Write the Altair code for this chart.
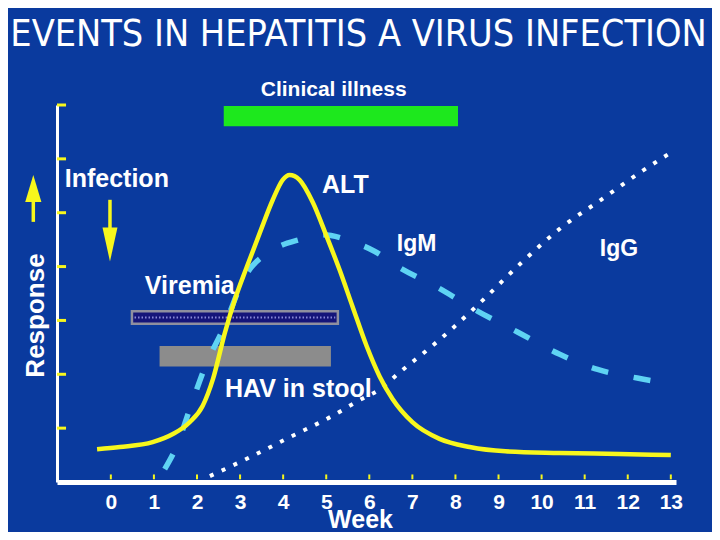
import altair as alt
import pandas as pd

# ---------------- data ----------------
weeks = list(range(14))

alt_week = [-0.32, 0.21, 0.97, 1.44, 1.83, 2.13, 2.37, 2.65, 2.88, 3.16, 3.46, 3.76, 3.99,
            4.15, 4.38, 4.69, 5.01, 5.31, 5.61, 5.94, 6.24, 6.54, 7.0, 7.63, 8.33, 9.16,
            10.41, 11.8, 13.0]
alt_resp = [0.61, 0.65, 0.74, 0.89, 1.11, 1.41, 1.91, 2.78, 3.39, 4.0, 4.63, 5.24, 5.61,
            5.70, 5.61, 5.19, 4.56, 3.94, 3.26, 2.52, 1.96, 1.54, 1.11, 0.80, 0.65, 0.57,
            0.54, 0.52, 0.50]

igm_week = [1.25, 1.53, 1.83, 2.23, 2.6, 3.11, 3.76, 4.38, 4.92, 5.61, 6.13, 6.66, 7.59,
            8.52, 9.45, 10.42, 11.3, 12.22, 13.12]
igm_resp = [0.24, 0.67, 1.35, 2.22, 2.83, 3.81, 4.31, 4.5, 4.59, 4.46, 4.28, 4.0, 3.61,
            3.17, 2.78, 2.37, 2.09, 1.93, 1.81]

igg_week = [2.3, 3.23, 4.15, 5.08, 5.82, 6.24, 6.71, 7.45, 7.9, 8.6, 9.53, 10.45, 11.38,
            12.31, 13.03]
igg_resp = [0.11, 0.46, 0.83, 1.2, 1.54, 1.72, 2.04, 2.52, 2.83, 3.35, 4.07, 4.72, 5.24,
            5.76, 6.13]

bar_names = ["Clinical illness", "Viremia", "HAV in stool"]
bar_start = [2.65, 0.49, 1.16]
bar_end = [8.03, 5.27, 5.08]
bar_top = [6.96, 3.17, 2.50]
bar_bottom = [6.63, 2.94, 2.17]
bar_fill = ["#1de81d", "#15157a", "#8c8c8c"]
bar_stroke = ["#1de81d", "#8f8f9f", "#8c8c8c"]

title_text = ["EVENTS IN HEPATITIS A VIRUS INFECTION"]
title_week = [5.75]
title_resp = [8.095]

label_text = ["Clinical illness", "Infection", "ALT", "IgM", "IgG", "Viremia", "HAV in stool"]
label_week = [3.48, -1.07, 4.90, 6.64, 11.35, 0.79, 2.65]
label_resp = [7.17, 5.48, 5.37, 4.28, 4.19, 3.50, 1.57]
label_size = [21, 25, 25, 23, 23, 25, 25]

ytick_vals = [1, 2, 3, 4, 5, 6, 7]

# arrows: (week, shaft from, shaft to, head centre)
inf_arrow_week = [-0.02]
inf_shaft = [5.24, 4.65]
inf_head = [4.41]
resp_arrow_week = [-1.80]
resp_shaft = [5.24, 4.83]
resp_head = [5.45]

# ---------------- styling ----------------
BG = "#0a3a9e"
YELLOW = "#f7f71c"
CYAN = "#5fd3f3"
COND = "DejaVu Sans Condensed, Liberation Sans, sans-serif"
SANS = "Liberation Sans, Arial, sans-serif"

xs = alt.Scale(domain=[-1.25, 13.12], nice=False, zero=False)
ys = alt.Scale(domain=[0, 7], nice=False, zero=False)

xaxis = alt.Axis(values=weeks, format="d", title="Week", titleFont=SANS, titleFontSize=25,
                 titleFontWeight="bold", titleColor="white", titleX=303, titleY=45,
                 titleBaseline="alphabetic", titleAlign="center",
                 labelFont=SANS, labelFontSize=21, labelFontWeight="bold",
                 labelColor="white", labelPadding=26, labelBaseline="alphabetic",
                 ticks=False, tickSize=0, grid=False, domainColor="white", domainWidth=5,
                 labelFlush=False, labelOverlap=False)
yaxis = alt.Axis(labels=False, ticks=False, tickSize=0, grid=False, domainColor="white",
                 domainWidth=3, title="Response", titleAngle=270, titleX=-14, titleY=210,
                 titleAlign="center", titleBaseline="alphabetic", titleFont=SANS,
                 titleFontSize=26, titleFontWeight="bold", titleColor="white")


def X(field="week"):
    return alt.X(f"{field}:Q", scale=xs, axis=xaxis)


def Y(field="resp"):
    return alt.Y(f"{field}:Q", scale=ys, axis=yaxis)


bars = pd.DataFrame({"name": bar_names, "week": bar_start, "week2": bar_end,
                     "resp": bar_top, "resp2": bar_bottom, "fill": bar_fill,
                     "stroke": bar_stroke})
bar_layer = alt.Chart(bars).mark_rect(strokeWidth=2.5).encode(
    x=X(), x2="week2:Q", y=Y(), y2="resp2:Q",
    fill=alt.Fill("fill:N", scale=None), stroke=alt.Stroke("stroke:N", scale=None))

vir = pd.DataFrame({"week": [bar_start[1] + 0.06, bar_end[1] - 0.06],
                    "resp": [(bar_top[1] + bar_bottom[1]) / 2] * 2})
vir_dots = alt.Chart(vir).mark_line(color="#8a8ad8", strokeWidth=2, strokeDash=[1.5, 2]).encode(
    x=X(), y=Y())

df_alt = pd.DataFrame({"week": alt_week, "resp": alt_resp})
df_igm = pd.DataFrame({"week": igm_week, "resp": igm_resp})
df_igg = pd.DataFrame({"week": igg_week, "resp": igg_resp})

igg_line = alt.Chart(df_igg).mark_line(color="white", strokeWidth=4, strokeDash=[4, 9],
                                       interpolate="monotone").encode(x=X(), y=Y())
igm_line = alt.Chart(df_igm).mark_line(color=CYAN, strokeWidth=5.5, strokeDash=[17, 26],
                                       interpolate="monotone").encode(x=X(), y=Y())
alt_line = alt.Chart(df_alt).mark_line(color=YELLOW, strokeWidth=4.5,
                                       interpolate="monotone").encode(x=X(), y=Y())

yt = pd.DataFrame({"week": [-1.25] * len(ytick_vals), "week2": [-1.04] * len(ytick_vals),
                   "resp": ytick_vals})
ytick_layer = alt.Chart(yt).mark_rule(color=YELLOW, strokeWidth=3).encode(
    x=X(), x2="week2:Q", y=Y())

xt = pd.DataFrame({"week": weeks, "resp": [0.05] * len(weeks), "resp2": [0.14] * len(weeks)})
xtick_layer = alt.Chart(xt).mark_rule(color=YELLOW, strokeWidth=2).encode(
    x=X(), y=Y(), y2="resp2:Q")

labels = pd.DataFrame({"text": label_text, "week": label_week, "resp": label_resp,
                       "size": label_size})
label_layer = alt.Chart(labels).mark_text(font=SANS, fontWeight="bold", color="white",
                                          align="left", baseline="alphabetic").encode(
    x=X(), y=Y(), text="text:N", size=alt.Size("size:Q", scale=None))

title_df = pd.DataFrame({"text": title_text, "week": title_week, "resp": title_resp})
title_layer = alt.Chart(title_df).mark_text(font=COND, fontSize=37.5, fontWeight="normal",
                                            color="white", align="center",
                                            baseline="alphabetic").encode(
    x=X(), y=Y(), text="text:N")

arr = pd.DataFrame({"week": inf_arrow_week + resp_arrow_week,
                    "resp": [inf_shaft[0], resp_shaft[0]],
                    "resp2": [inf_shaft[1], resp_shaft[1]]})
shaft_layer = alt.Chart(arr).mark_rule(color=YELLOW, strokeWidth=3.5).encode(
    x=X(), y=Y(), y2="resp2:Q")
head_down = alt.Chart(pd.DataFrame({"week": inf_arrow_week, "resp": inf_head})).mark_point(
    shape="M-0.44,-1L0.44,-1L0,1Z", size=1156, filled=True, color=YELLOW, opacity=1,
    strokeWidth=0).encode(x=X(), y=Y())
head_up = alt.Chart(pd.DataFrame({"week": resp_arrow_week, "resp": resp_head})).mark_point(
    shape="M-0.6,1L0.6,1L0,-1Z", size=729, filled=True, color=YELLOW, opacity=1,
    strokeWidth=0).encode(x=X(), y=Y())

chart = alt.layer(
    bar_layer, vir_dots, igg_line, igm_line, alt_line, ytick_layer, xtick_layer,
    label_layer, title_layer, shaft_layer, head_down, head_up
).properties(
    width=619, height=377,
    autosize=alt.AutoSizeParams(type="none"),
    padding={"left": 49, "top": 97, "right": 36, "bottom": 50},
).configure(background=BG).configure_view(stroke=None)

chart.save("out.html", embed_options={"renderer": "svg", "actions": False})
